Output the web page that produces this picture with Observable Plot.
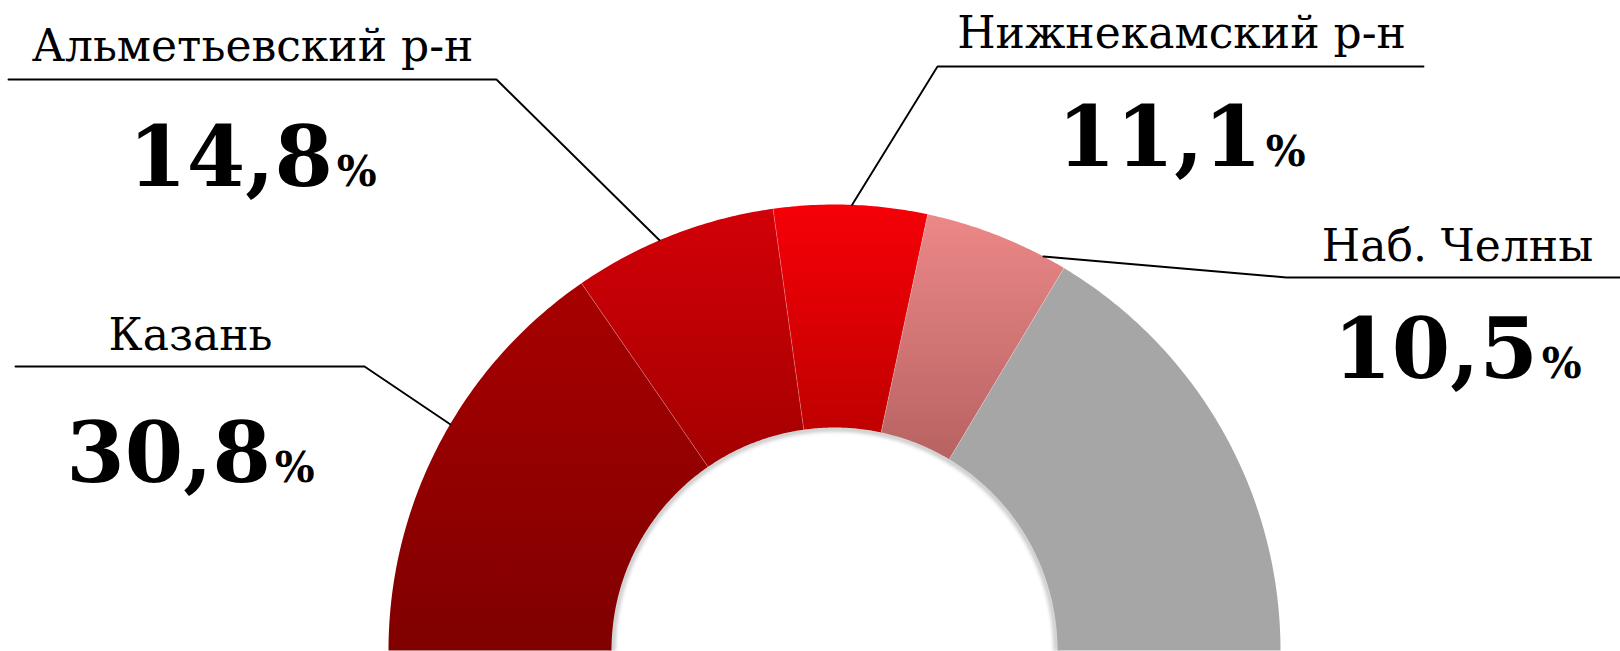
<!DOCTYPE html>
<html><head><meta charset="utf-8">
<script src="https://cdn.jsdelivr.net/npm/d3@7"></script>
<script src="https://cdn.jsdelivr.net/npm/@observablehq/plot@0.6"></script>
<style>
html,body{margin:0;padding:0;background:#fff;}
#chart svg{display:block;}
</style>
</head><body><div id="chart"></div>
<script>
// ---- data ----
const regions = ["Казань", "Альметьевский р-н", "Нижнекамский р-н", "Наб. Челны", "Прочие"];
const shares = [30.8, 14.8, 11.1, 10.5, 32.8];
const valueLabels = ["30,8%", "14,8%", "11,1%", "10,5%", null];

// ---- styles ----
const colorsTop = ["#a80000", "#d30008", "#f60008", "#ec8888", "#a6a6a6"];
const colorsBottom = ["#800000", "#a40000", "#c00000", "#b86262", "#a6a6a6"];

// ---- layout (pixel frame: centre of the half ring) ----
const W = 1620, H = 651, CX = 834, CY = 650;
const R_OUT = 446, R_IN = 223;
// leader anchor: fraction of the way through each segment
const anchorFrac = [0.55, 0.43, 0.51, 0.84];
// elbow and end of the horizontal leader (page pixels)
const elbowX = [364, 496, 937, 1286];
const elbowY = [366, 79, 66, 277];
const endX = [15, 8, 1423, 1620];
// label centres / baselines (page pixels)
const labelX = [190, 252, 1181, 1457];
const nameY = [349, 60, 47, 260];
const valueY = [481, 185, 165, 377];

const px = X => X - CX;     // page x -> data x
const py = Y => CY - Y;     // page y -> data y

const total = d3.sum(shares);
let cum = 0;
const segs = regions.map((region, i) => {
  const a0 = 180 - cum / total * 180;
  cum += shares[i];
  const a1 = 180 - cum / total * 180;
  return {region, i, a0, a1};
});
const rad = a => a * Math.PI / 180;

const polyRows = segs.flatMap(s => {
  const n = Math.max(2, Math.ceil(Math.abs(s.a0 - s.a1) / 0.5));
  const pts = [];
  for (let k = 0; k <= n; k++) {
    const a = rad(s.a0 + (s.a1 - s.a0) * k / n);
    pts.push({region: s.region, x: R_OUT * Math.cos(a), y: R_OUT * Math.sin(a)});
  }
  for (let k = n; k >= 0; k--) {
    const a = rad(s.a0 + (s.a1 - s.a0) * k / n);
    pts.push({region: s.region, x: R_IN * Math.cos(a), y: R_IN * Math.sin(a)});
  }
  return pts;
});

const separators = segs.slice(1).map(s => ({
  x1: R_IN * Math.cos(rad(s.a0)), y1: R_IN * Math.sin(rad(s.a0)),
  x2: R_OUT * Math.cos(rad(s.a0)), y2: R_OUT * Math.sin(rad(s.a0))
}));

const shadowRows = d3.range(0, 181, 1).map(a => ({x: (R_IN - 1.5) * Math.cos(rad(a)), y: (R_IN - 1.5) * Math.sin(rad(a))}));

const leaderRows = segs.slice(0, 4).flatMap((s, i) => {
  const a = rad(s.a0 + (s.a1 - s.a0) * anchorFrac[i]);
  return [
    {region: s.region, x: R_OUT * Math.cos(a), y: R_OUT * Math.sin(a)},
    {region: s.region, x: px(elbowX[i]), y: py(elbowY[i])},
    {region: s.region, x: px(endX[i]), y: py(elbowY[i])}
  ];
});

const nameRows = regions.slice(0, 4).map((r, i) => ({text: r, x: px(labelX[i]), y: py(nameY[i])}));
const valueRows = valueLabels.slice(0, 4).map((v, i) => ({text: v, x: px(labelX[i]), y: py(valueY[i])}));

const defsMark = () => {
  const defs = d3.create("svg:defs");
  colorsTop.forEach((c, i) => {
    const g = defs.append("linearGradient").attr("id", "grad" + i)
      .attr("x1", 0).attr("y1", 0).attr("x2", 0).attr("y2", 1);
    g.append("stop").attr("offset", 0).attr("stop-color", c);
    g.append("stop").attr("offset", 1).attr("stop-color", colorsBottom[i]);
  });
  return defs.node();
};

const chart = Plot.plot({
  width: W, height: H, margin: 0,
  style: {background: "#fff", fontFamily: "'DejaVu Serif', serif", color: "#000"},
  x: {domain: [px(0), px(W)], axis: null},
  y: {domain: [py(H), py(0)], axis: null},
  marks: [
    defsMark,
    Plot.line(shadowRows, {x: "x", y: "y", stroke: "#000", strokeOpacity: 0.35, strokeWidth: 3, className: "shadow"}),
    ...segs.map(s => Plot.line(polyRows.filter(d => d.region === s.region), {
      x: "x", y: "y", fill: `url(#grad${s.i})`, stroke: "none", curve: "linear"
    })),
    Plot.link(separators, {x1: "x1", y1: "y1", x2: "x2", y2: "y2", stroke: "#fff", strokeOpacity: 0.3, strokeWidth: 0.8}),
    Plot.line(leaderRows, {x: "x", y: "y", z: "region", stroke: "#000", strokeWidth: 1.9, curve: "linear"}),
    Plot.text(nameRows, {x: "x", y: "y", text: "text", fontSize: 44, textAnchor: "middle", lineAnchor: "bottom", fill: "#000"}),
    Plot.text(valueRows, {x: "x", y: "y", text: "text", fontSize: 84, fontWeight: "bold", textAnchor: "middle", lineAnchor: "bottom", fill: "#000"})
  ]
});

// split the percent sign into a smaller tspan
d3.select(chart).selectAll("text").each(function() {
  const t = this.textContent;
  if (/%$/.test(t)) {
    const sel = d3.select(this);
    sel.text(t.slice(0, -1));
    sel.append("tspan").attr("font-size", 42).attr("dx", 4).text("%");
  }
});
d3.select(chart).selectAll(".shadow path").style("filter", "blur(2px)");

document.getElementById("chart").appendChild(chart);
</script>
</body></html>
